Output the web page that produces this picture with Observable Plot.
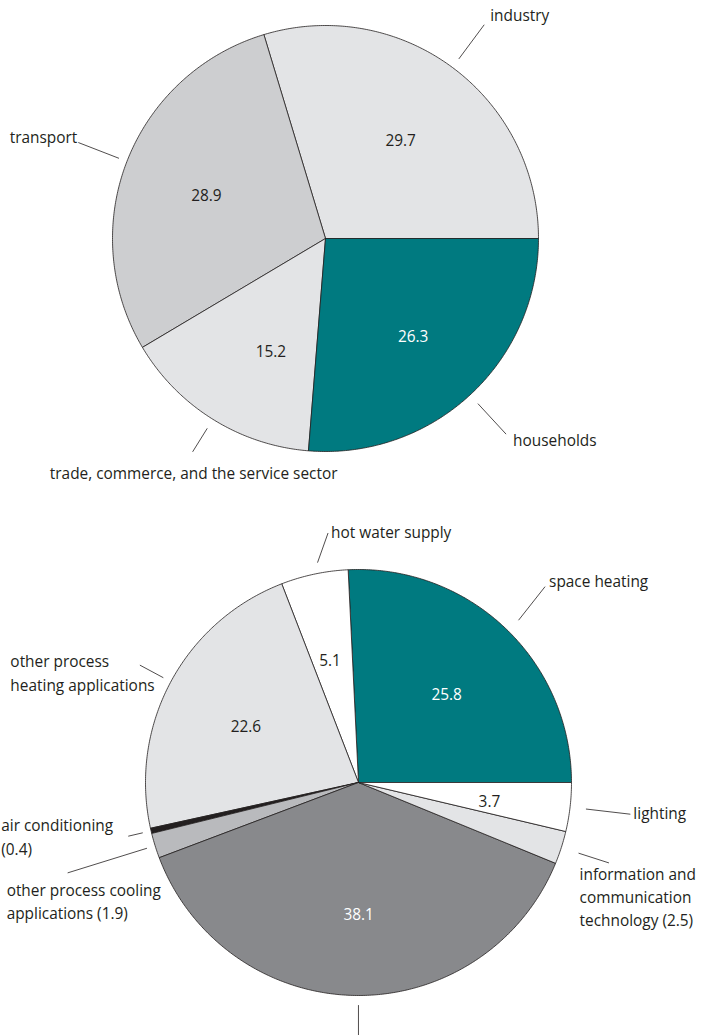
<!DOCTYPE html>
<html>
<head>
<meta charset="utf-8">
<script src="https://cdn.jsdelivr.net/npm/d3@7"></script>
<script src="https://cdn.jsdelivr.net/npm/@observablehq/plot@0.6"></script>
<style>
  body { margin: 0; background: #fff; }
  #chart svg { display: block; }
</style>
</head>
<body>
<div id="chart"></div>
<script>
// ---------- DATA (counter-clockwise from 3 o'clock) ----------
const sectorNames = ["industry", "transport", "trade, commerce, and the service sector", "households"];
const sectorValues = [29.7, 28.9, 15.2, 26.3];
const sectorValueLabels = ["29.7", "28.9", "15.2", "26.3"];

const useNames = [
  "space heating",
  "hot water supply",
  "other process\nheating applications",
  "air conditioning\n(0.4)",
  "other process cooling\napplications (1.9)",
  "",
  "information and\ncommunication\ntechnology (2.5)",
  "lighting"
];
const useValues = [25.8, 5.1, 22.6, 0.4, 1.9, 38.1, 2.5, 3.7];
const useValueLabels = ["25.8", "5.1", "22.6", "", "", "38.1", "", "3.7"];

// ---------- STYLE / LAYOUT ----------
const INK = "#231f20";
const TEAL = "#007a80";
const sectorColors = [ "#e3e4e6", "#cdced0", "#e3e4e6", TEAL ];
const sectorTextColors = [INK, INK, INK, "#ffffff"];
const useColors = [TEAL, "#ffffff", "#e3e4e6", INK, "#b9babd", "#88898c", "#e3e4e6", "#ffffff"];
const useTextColors = ["#ffffff", INK, INK, INK, INK, "#ffffff", INK, INK];

// leader: [inner radius, outer radius, inner angle shift (deg), outer angle shift (deg)]
const sectorLeaders = [[1.05, 1.25, 0, 0], [1.04, 1.245, 0, 0], [1.05, 1.18, 0, 0], [1.055, 1.25, 0, 0]];
// label offsets from leader end: [dx, dy, textAnchor]
const sectorLabelPos = [[6, -11, "start"], [-1, -7, "end"], [1, 20, "middle"], [7, 4.5, "start"]];
// value label pixel nudges: [dx, dy]
const sectorValueNudge = [[-1, 5], [0, 4], [13, 5], [1, 5]];

const useLeaders = [[1.07, 1.27, -1, 0], [1.05, 1.18, -1.4, -5], [1.04, 1.165, 0, 0], [1.04, 1.11, 0, 0],
                    [1.04, 1.43, 0, 0], [1.045, 1.19, 0.8, 0.8], [1.085, 1.235, 0, 0], [1.075, 1.285, 0, 0]];
const useLabelPos = [[4, -7, "start"], [3, -2.5, "start"], [-129.5, 6.5, "start"], [-127, -0.5, "start"],
                     [-61, 27, "start"], [0, 0, "start"], [-29.4, 32.5, "start"], [3, -3, "start"]];
const useValueNudge = [[0, 5], [-2, 4], [0, 5], [0, 0], [0, 0], [2, 5], [0, 0], [4, 5]];

const W = 708;
const R = 213;
const FONT = "'Open Sans', 'Noto Sans', sans-serif";
const FS = 15.4;

function slices(values) {
  const total = d3.sum(values);
  let a = 0;
  return values.map((v, i) => {
    const a0 = a;
    a += v / total * 2 * Math.PI;
    return {i, a0, a1: a, mid: (a0 + a) / 2};
  });
}

function pie({names, values, valueLabels, colors, textColors, leaders, labelPos, valueNudge, cx, cy, H}) {
  const sl = slices(values);
  const rows = [];
  for (const s of sl) {
    const n = Math.max(2, Math.ceil((s.a1 - s.a0) / (Math.PI / 360)));
    rows.push({slice: s.i, x: 0, y: 0});
    for (let k = 0; k <= n; k++) {
      const t = s.a0 + (s.a1 - s.a0) * k / n;
      rows.push({slice: s.i, x: Math.cos(t), y: Math.sin(t)});
    }
    rows.push({slice: s.i, x: 0, y: 0});
  }
  const deg = Math.PI / 180;
  const leaderRows = sl.map(s => {
    const [r0, r1, d0, d1] = leaders[s.i];
    const t0 = s.mid + d0 * deg, t1 = s.mid + d1 * deg;
    return {i: s.i, x1: r0 * Math.cos(t0), y1: r0 * Math.sin(t0), x2: r1 * Math.cos(t1), y2: r1 * Math.sin(t1)};
  });
  const valueMarks = sl.filter(s => valueLabels[s.i]).map(s => {
    const [dx, dy] = valueNudge[s.i];
    return Plot.text([s], {
      x: () => 0.6 * Math.cos(s.mid), y: () => 0.6 * Math.sin(s.mid), text: () => valueLabels[s.i],
      dx, dy, fill: textColors[s.i], fontSize: FS, fontFamily: FONT
    });
  });
  const nameMarks = leaderRows.filter(d => names[d.i]).map(d => {
    const [dx, dy, anchor] = labelPos[d.i];
    return Plot.text([d], {
      x: "x2", y: "y2", text: () => names[d.i], dx, dy, textAnchor: anchor, lineAnchor: "middle",
      lineHeight: 1.52, fill: INK, fontSize: FS, fontFamily: FONT
    });
  });
  return Plot.plot({
    width: W, height: H, margin: 0,
    x: {domain: [-cx / R, (W - cx) / R], range: [0, W], axis: null},
    y: {domain: [cy / R, (cy - H) / R], range: [0, H], axis: null},
    color: {type: "identity"},
    style: {fontFamily: FONT, background: "#fff", overflow: "visible"},
    marks: [
      Plot.line(rows, {x: "x", y: "y", z: "slice", fill: d => colors[d.slice], stroke: INK, strokeWidth: 0.8, curve: "linear", strokeLinejoin: "miter"}),
      Plot.link(leaderRows, {x1: "x1", y1: "y1", x2: "x2", y2: "y2", stroke: INK, strokeWidth: 0.8}),
      ...valueMarks,
      ...nameMarks
    ]
  });
}

const chart = document.getElementById("chart");
chart.append(pie({
  names: sectorNames, values: sectorValues, valueLabels: sectorValueLabels,
  colors: sectorColors, textColors: sectorTextColors, leaders: sectorLeaders, labelPos: sectorLabelPos,
  valueNudge: sectorValueNudge, cx: 325, cy: 238, H: 497
}));
chart.append(pie({
  names: useNames, values: useValues, valueLabels: useValueLabels,
  colors: useColors, textColors: useTextColors, leaders: useLeaders, labelPos: useLabelPos,
  valueNudge: useValueNudge, cx: 358, cy: 285, H: 538
}));
</script>
</body>
</html>
